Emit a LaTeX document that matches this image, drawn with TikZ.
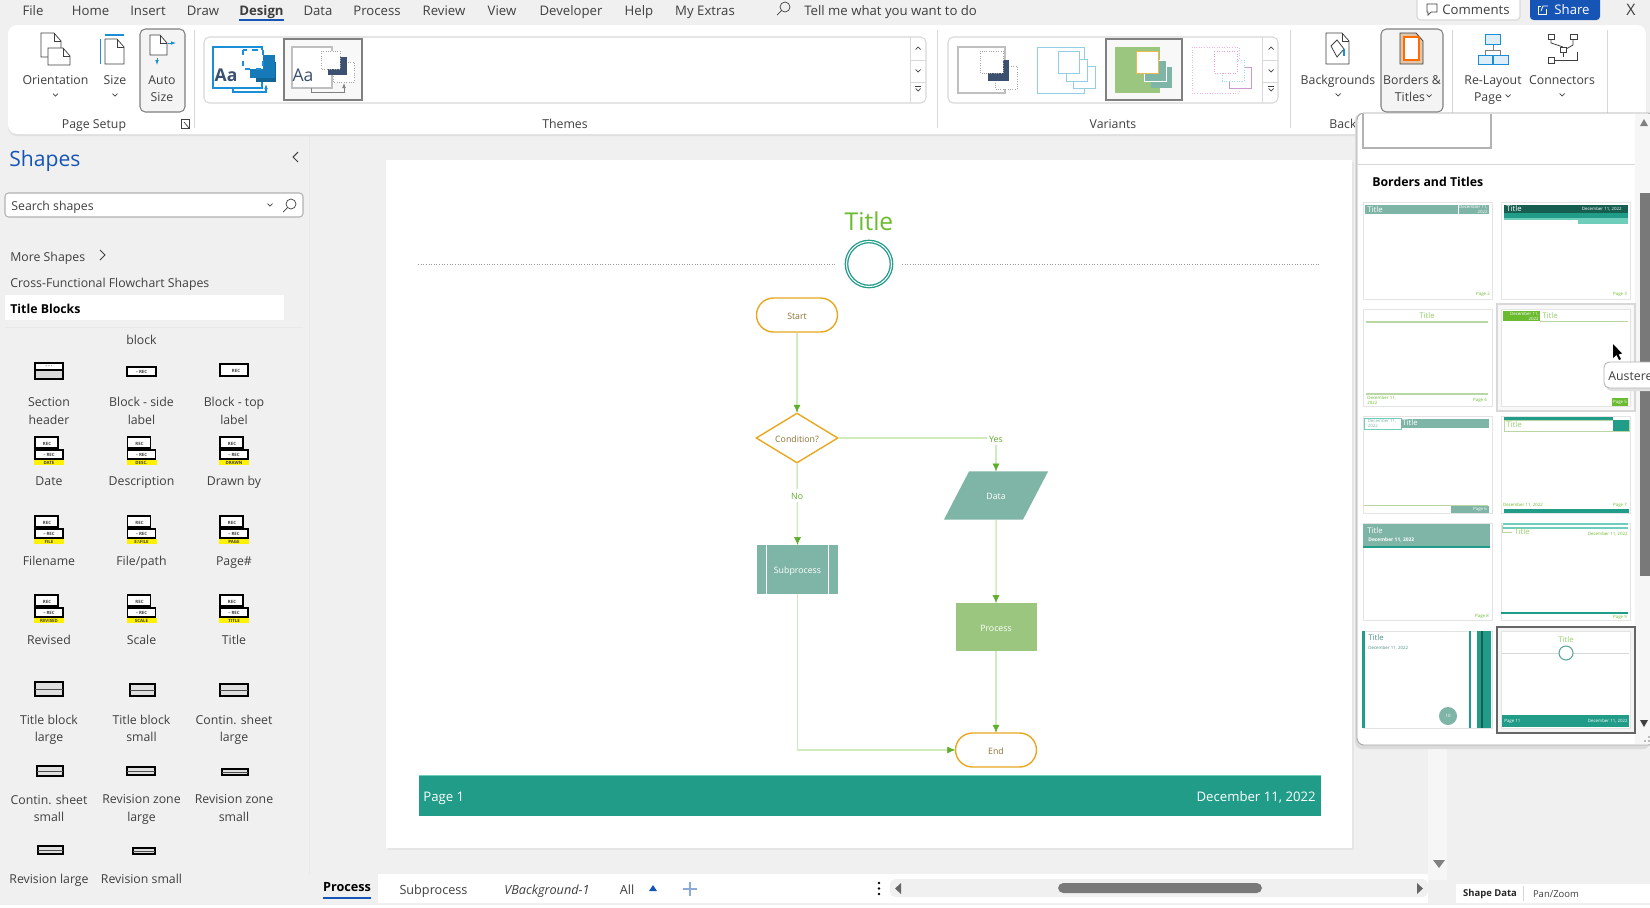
\documentclass[tikz,border=0pt]{standalone}
\usepackage{fontspec}
\setmainfont{Open Sans}
\usetikzlibrary{arrows.meta,shapes.geometric,shapes.misc,positioning}

\definecolor{canvasgrey}{HTML}{F0F0F0}
\definecolor{uigrey}{HTML}{3F3F3F}
\definecolor{rulegrey}{HTML}{D8D8D8}
\definecolor{officeblue}{HTML}{1655B5}
\definecolor{iconblue}{HTML}{1A8FD8}
\definecolor{slatedark}{HTML}{3C5070}
\definecolor{skyline}{HTML}{92CFE6}
\definecolor{flowteal}{HTML}{209C88}
\definecolor{darkteal}{HTML}{155E50}
\definecolor{softteal}{HTML}{7FB5A6}
\definecolor{paleteal}{HTML}{6FCDBB}
\definecolor{softgreen}{HTML}{9BC67F}
\definecolor{titlegreen}{HTML}{6BBB2F}
\definecolor{linegreen}{HTML}{D0ECBE}
\definecolor{tipgreen}{HTML}{5FAE2B}
\definecolor{startorange}{HTML}{E8A820}
\definecolor{flowbrown}{HTML}{8B7335}

\tikzset{
  uitext/.style={inner sep=0pt, text=uigrey, text height=6.65pt, text depth=0.55pt, font=\fontsize{7}{8.5}\selectfont},
  menutext/.style={uitext, font=\fontsize{7.5}{9}\selectfont},
  paneltext/.style={uitext, font=\fontsize{7}{8.5}\selectfont},
  stacktext/.style={inner sep=0pt, text=uigrey, font=\fontsize{7}{10.2}\selectfont, align=center, execute at begin node=\strut, execute at end node=\strut},
  iconline/.style={draw=uigrey, fill=white, line width=0.42pt},
  chevline/.style={draw=uigrey, line width=0.4pt},
  boxrule/.style={draw=rulegrey, fill=white, line width=0.6pt},
  pickbox/.style={draw=gray, fill=canvasgrey!50, line width=0.6pt},
  stencil/.style={draw=black, fill=white, line width=0.7pt},
  stenciltext/.style={inner sep=0pt, text=black!75, font=\fontsize{2.5}{3}\selectfont\bfseries},
  thumbbox/.style={draw=rulegrey!70, fill=white, line width=0.6pt, anchor=north west, minimum width=2.58cm, minimum height=1.94cm, inner sep=0pt},
  thumbtitle/.style={inner sep=0pt, font=\fontsize{4.4}{5}\selectfont},
  thumbnote/.style={inner sep=0pt, font=\fontsize{2.5}{3}\selectfont},
  flowline/.style={draw=linegreen, line width=0.85pt},
  tipline/.style={draw=tipgreen, line width=0.3pt, -{Latex[length=1.5mm, width=1.4mm]}},
  flowtext/.style={font=\fontsize{5}{6}\selectfont, text=flowbrown, inner sep=0pt, text height=5pt, text depth=0.4pt},
  terminal/.style={rounded rectangle, draw=startorange, fill=white, line width=0.8pt, minimum width=1.62cm, minimum height=0.68cm, flowtext},
  decision/.style={diamond, aspect=1.64, draw=startorange, fill=white, line width=0.8pt, minimum width=1.64cm, minimum height=1cm, flowtext},
  whitebox/.style={font=\fontsize{5}{6}\selectfont, text=white, inner sep=0pt, text height=5pt, text depth=0.4pt},
  edgetext/.style={fill=white, font=\fontsize{5}{6}\selectfont, text=tipgreen, inner sep=1pt, text height=5pt, text depth=0.4pt},
  foottext/.style={inner sep=0pt, text=white, text height=7.5pt, text depth=0.5pt, font=\fontsize{7.5}{9}\selectfont},
}

\newcommand{\pageicon}[4]{%
  \draw[iconline] (#1,#2) -- ++({#3-7},0) -- ++(7,8) -- ++(0,{#4-8}) -- ++(-#3,0) -- cycle;
  \draw[iconline, fill=none] ({#1+#3-7},#2) -- ++(0,8) -- ++(7,0);}
\newcommand{\chevdown}[2]{\draw[chevline] ({#1-2.5},{#2-1.5}) -- (#1,{#2+1}) -- ({#1+2.5},{#2-1.5});}
\newcommand{\chevup}[2]{\draw[chevline] ({#1-2.5},{#2+1.5}) -- (#1,{#2-1}) -- ({#1+2.5},{#2+1.5});}
\newcommand{\moredown}[2]{\chevdown{#1}{#2}\draw[chevline] ({#1-3},{#2-3.5}) -- ({#1+3},{#2-3.5});}
\newcommand{\lens}[2]{\draw[chevline] (#1,#2) circle (5);\draw[chevline] ({#1-3.5},{#2+3.5}) -- ({#1-8},{#2+8});}
\newcommand{\recicon}[4]{%
  \draw[stencil] ({#2-14},#3) rectangle ({#2+9},{#3+11});
  \draw[stencil] ({#2-14},{#3+13}) rectangle ({#2+14},{#3+22});
  \node[stenciltext] (#1up) at ({#2-2},{#3+6.5}) {REC};
  \node[stenciltext] (#1low) at (#2,{#3+17.5}) {-- REC};
  \fill[yellow] ({#2-15},{#3+23}) rectangle ({#2+15},{#3+28});
  \node[stenciltext] (#1tag) at (#2,{#3+25.5}) {#4};}
\newcommand{\blockicon}[4]{%
  \fill[gray!70] ({#1+1},{#2+1}) rectangle ({#3+1},{#4+1});
  \draw[stencil, fill=gray!25] (#1,#2) rectangle (#3,#4);
  \draw[black!70, line width=0.3pt] (#1,{(#2+#4)/2}) -- (#3,{(#2+#4)/2});}

\begin{document}
\begin{tikzpicture}[x=0.02cm, y=-0.02cm]
  \useasboundingbox (0,0) rectangle (1650,907);
  \fill[canvasgrey] (0,0) rectangle (1650,907);

  % menu bar
  \node[menutext] (mfile) at (33,10) {File};
  \node[menutext] (mhome) at (90.5,10) {Home};
  \node[menutext] (minsert) at (148,10) {Insert};
  \node[menutext] (mdraw) at (203,10) {Draw};
  \node[menutext, font=\fontsize{7.5}{9}\selectfont\bfseries] (mdesign) at (261.5,10) {Design};
  \node[menutext] (mdata) at (318,10) {Data};
  \node[menutext] (mprocess) at (377,10) {Process};
  \node[menutext] (mreview) at (444,10) {Review};
  \node[menutext] (mview) at (502,10) {View};
  \node[menutext] (mdeveloper) at (571,10) {Developer};
  \node[menutext] (mhelp) at (639,10) {Help};
  \node[menutext] (mextras) at (705,10) {My Extras};
  \node[menutext, anchor=west] (mtell) at (804,10) {Tell me what you want to do};
  \draw[officeblue, line width=0.9pt] (239,20) -- (284,20);
  \lens{785}{7}
  \draw[boxrule, rounded corners=2pt] (1417,-4) rectangle (1520,20);
  \draw[chevline] (1427,4) -- (1437,4) -- (1437,12) -- (1431,12) -- (1428,15) -- (1428,12) -- (1427,12) -- cycle;
  \node[menutext] (mcomments) at (1476,9) {Comments};
  \fill[officeblue, rounded corners=2pt] (1530,-4) rectangle (1600,20);
  \node[menutext, text=white] (mshare) at (1572,9) {Share};
  \draw[white, line width=0.45pt] (1546,9) -- (1546,14) -- (1538,14) -- (1538,6) -- (1541,6);
  \draw[white, line width=0.45pt] (1541,11) -- (1543,6) -- (1548,6);
  \node[menutext, font=\fontsize{9}{10}\selectfont] (mclose) at (1631,10) {X};

  % ribbon
  \fill[black!12, rounded corners=5pt] (8,27) rectangle (1646,136);
  \fill[white, rounded corners=5pt] (8,25) rectangle (1646,134);
  \draw[rulegrey] (194,30) -- (194,128);
  \draw[rulegrey] (937,30) -- (937,128);
  \draw[rulegrey] (1290,30) -- (1290,128);
  \draw[rulegrey] (1452,30) -- (1452,128);
  \draw[rulegrey] (1607,30) -- (1607,128);

  % page setup group
  \pageicon{41}{33}{20}{24}
  \pageicon{48}{48}{22}{17}
  \node[uitext] (lorient) at (55.5,79) {Orientation};
  \chevdown{55.5}{95}
  \pageicon{105}{39}{19}{25}
  \draw[iconblue, line width=0.6pt] (105,35) -- (124,35);
  \draw[iconblue, line width=0.6pt] (100.5,39) -- (100.5,64);
  \node[uitext] (lsize) at (115,79) {Size};
  \chevdown{115}{95}
  \draw[draw=gray, fill=canvasgrey!70, rounded corners=3pt, line width=0.6pt] (140,29) rectangle (185,112);
  \pageicon{150}{35}{17}{20}
  \draw[iconblue, -{Latex[length=1mm]}, line width=0.5pt] (168,43) -- (176,43);
  \draw[iconblue, -{Latex[length=1mm]}, line width=0.5pt] (157,58) -- (157,65);
  \node[uitext] (lauto) at (162,79) {Auto};
  \node[uitext] (lautosize) at (162,96) {Size};
  \node[uitext] (lpagesetup) at (94,123) {Page Setup};
  \draw[chevline] (181,119) rectangle (189,128);
  \draw[chevline] (184,122) -- (189,128);

  % themes group
  \draw[boxrule, rounded corners=3pt] (204,37) rectangle (926,103);
  \draw[rulegrey] (910,37) -- (910,103);
  \draw[rulegrey] (910,60) -- (926,60);
  \draw[rulegrey] (910,82) -- (926,82);
  \chevup{918}{48}
  \chevdown{918}{71}
  \moredown{918}{90}
  \draw[iconblue, line width=0.8pt, fill=white] (213,47) rectangle (262,88);
  \node[inner sep=0pt, text=slatedark, font=\fontsize{10}{11}\selectfont\bfseries] (themeaa) at (226,75) {Aa};
  \draw[iconblue, -{Latex[length=1mm]}, line width=0.6pt] (233,88) -- (233,92) -- (266,92) -- (266,84);
  \fill[iconblue!70!black] (256,62) rectangle (276,82);
  \fill[iconblue!85!black] (250,55) rectangle (275,78);
  \draw[iconblue, dashed, fill=white, line width=0.6pt] (243,50) rectangle (263,69);
  \draw[pickbox] (284,39) rectangle (362,100);
  \draw[draw=gray!50, fill=white, line width=0.7pt] (292,47) rectangle (332,88);
  \node[inner sep=0pt, text=slatedark, font=\fontsize{10}{11}\selectfont] (themebb) at (303,75) {Aa};
  \draw[gray, -{Latex[length=1mm]}, line width=0.45pt] (311,88) -- (311,92) -- (344,92) -- (344,83);
  \draw[gray!70, densely dotted, fill=white, line width=0.35pt] (333,62) rectangle (354,82);
  \fill[slatedark] (328,57) rectangle (347,75);
  \draw[gray!70, densely dotted, fill=white, line width=0.35pt] (321,51) rectangle (340,69);
  \node[uitext] (lthemes) at (565,123) {Themes};

  % variants group
  \draw[boxrule, rounded corners=3pt] (948,37) rectangle (1278,103);
  \draw[rulegrey] (1262,37) -- (1262,103);
  \draw[rulegrey] (1262,60) -- (1278,60);
  \draw[rulegrey] (1262,82) -- (1278,82);
  \chevup{1271}{48}
  \chevdown{1271}{71}
  \moredown{1271}{90}
  \draw[draw=gray!50, fill=white, line width=0.7pt] (958,47) rectangle (1005,93);
  \draw[gray!70, densely dotted, fill=white, line width=0.35pt] (995,66) rectangle (1017,89);
  \fill[slatedark] (988,60) rectangle (1009,81);
  \draw[gray!70, densely dotted, fill=white, line width=0.35pt] (980,51) rectangle (1003,73);
  \draw[skyline, fill=white, line width=0.45pt] (1037,47) rectangle (1084,93);
  \draw[skyline, fill=white, line width=0.45pt] (1073,66) rectangle (1095,88);
  \draw[skyline, fill=white, line width=0.45pt] (1066,59) rectangle (1087,81);
  \draw[skyline, fill=white, line width=0.45pt] (1058,51) rectangle (1079,73);
  \draw[pickbox] (1106,39) rectangle (1182,100);
  \fill[softgreen] (1115,47) rectangle (1160,93);
  \fill[softteal] (1151,67) rectangle (1172,88);
  \draw[white, fill=softteal, line width=0.4pt] (1144,60) rectangle (1166,81);
  \draw[startorange!80, fill=white, line width=0.45pt] (1136,51) rectangle (1158,73);
  \draw[magenta!30, densely dotted, line width=0.45pt] (1192,47) rectangle (1239,93);
  \draw[violet!40, fill=white, line width=0.4pt] (1229,67) rectangle (1251,88);
  \draw[cyan!40, densely dotted, fill=white, line width=0.45pt] (1222,60) rectangle (1244,81);
  \draw[magenta!40, densely dotted, fill=white, line width=0.45pt] (1214,51) rectangle (1237,73);
  \node[uitext] (lvariants) at (1113,123) {Variants};

  % backgrounds and layout group
  \pageicon{1326}{33}{23}{31}
  \draw[uigrey, line width=0.45pt, fill=white] (1331,46) -- (1337,40) -- (1344,49) -- (1337,57) -- cycle;
  \draw[iconblue, line width=0.6pt] (1344,49) -- (1344,56);
  \node[uitext] (lback) at (1338,79) {Backgrounds};
  \chevdown{1338}{95}
  \node[uitext, anchor=west] (lbackg) at (1329,123) {Backg};
  \draw[draw=gray, fill=canvasgrey!70, rounded corners=3pt, line width=0.6pt] (1381,29) rectangle (1443,112);
  \draw[draw=uigrey, fill=brown!45, line width=0.45pt] (1400,33) -- (1416,33) -- (1423,41) -- (1423,64) -- (1400,64) -- cycle;
  \draw[draw=orange!85!red, fill=white, line width=0.9pt] (1404,37) rectangle (1419,60);
  \node[uitext] (lborders) at (1412,79) {Borders \&};
  \node[uitext] (ltitles) at (1410,96) {Titles};
  \chevdown{1429}{96}
  \draw[gray, line width=0.45pt] (1493,44) -- (1493,50) (1485,50) -- (1500,50) (1485,50) -- (1485,55) (1500,50) -- (1500,55);
  \draw[iconblue, fill=iconblue!15, line width=0.5pt] (1485,34) rectangle (1500,44);
  \draw[iconblue, fill=iconblue!15, line width=0.5pt] (1478,55) rectangle (1492,64);
  \draw[iconblue, fill=iconblue!15, line width=0.5pt] (1493,55) rectangle (1508,64);
  \node[uitext] (lrelayout) at (1493,79) {Re-Layout};
  \node[uitext] (lrepage) at (1488,96) {Page};
  \chevdown{1508}{96}
  \draw[uigrey, line width=0.45pt] (1551,39) -- (1551,43) -- (1563,47);
  \draw[uigrey, line width=0.45pt] (1573,39) -- (1573,45) -- (1566,49);
  \draw[uigrey, line width=0.45pt] (1563,52) -- (1563,57);
  \draw[uigrey, line width=0.45pt] (1554,60) -- (1577,60) -- (1577,52);
  \draw[iconline] (1548,34) rectangle (1554,39);
  \draw[iconline] (1570,34) rectangle (1577,39);
  \draw[iconline] (1560,47) rectangle (1566,52);
  \draw[iconline] (1548,57) rectangle (1554,63);
  \node[uitext] (lconnectors) at (1562,79) {Connectors};
  \chevdown{1562}{95}

  % shapes panel
  \node[inner sep=0pt, anchor=west, text=officeblue, font=\fontsize{12}{14}\selectfont] (pshapes) at (9,161) {Shapes};
  \draw[chevline, line width=0.6pt] (298,152) -- (293,157) -- (298,162);
  \draw[boxrule, draw=gray!60, rounded corners=2pt] (5,193) rectangle (303,217);
  \node[paneltext, anchor=west] (psearch) at (11,205.5) {Search shapes};
  \chevdown{270}{205}
  \lens{291}{204}
  \node[paneltext, anchor=west] (pmore) at (10,256) {More Shapes};
  \draw[chevline, line width=0.55pt] (100,250) -- (105,255) -- (100,260);
  \node[paneltext, anchor=west] (pcross) at (10,282) {Cross-Functional Flowchart Shapes};
  \fill[white] (5,295) rectangle (284,320);
  \node[paneltext, anchor=west, text=black, font=\fontsize{7}{8.5}\selectfont\bfseries] (ptitle) at (10,308) {Title Blocks};
  \draw[rulegrey!60] (5,327) -- (303,327);
  \node[paneltext] (pblock) at (141.5,339) {block};

  \draw[stencil, fill=gray!30] (35,363) rectangle (63,379);
  \draw[black, fill=white, line width=0.7pt] (35,363) rectangle (63,370);
  \node[stenciltext] (isection) at (49,366.5) {- - -};
  \draw[stencil] (127,367) rectangle (156,376);
  \node[stenciltext] (iside) at (141.5,371.5) {-- REC};
  \draw[stencil] (220,364) rectangle (248,376);
  \node[stenciltext] (itop) at (236,371) {REC};
  \node[stacktext] (ssection) at (49,413.5) {Section\\header};
  \node[stacktext] (sside) at (141.5,413.5) {Block - side\\label};
  \node[stacktext] (stop) at (234,413.5) {Block - top\\label};

  \recicon{idate}{49}{437}{DATE}
  \recicon{idesc}{141.5}{437}{DESC.}
  \recicon{idrawn}{234}{437}{DRAWN}
  \node[paneltext] (sdate) at (49,480.5) {Date};
  \node[paneltext] (sdesc) at (141.5,480.5) {Description};
  \node[paneltext] (sdrawn) at (234,480.5) {Drawn by};

  \recicon{ifile}{49}{516}{FILE}
  \recicon{ipath}{141.5}{516}{E:\textbackslash FILE}
  \recicon{ipage}{234}{516}{PAGE}
  \node[paneltext] (sfile) at (49,560) {Filename};
  \node[paneltext] (spath) at (141.5,560) {File/path};
  \node[paneltext] (spage) at (234,560) {Page\#};

  \recicon{irevised}{49}{595}{REVISED}
  \recicon{iscale}{141.5}{595}{SCALE}
  \recicon{ititle}{234}{595}{TITLE}
  \node[paneltext] (srevised) at (49,639) {Revised};
  \node[paneltext] (sscale) at (141.5,639) {Scale};
  \node[paneltext] (stitle) at (234,639) {Title};

  \blockicon{35}{682}{63}{696}
  \blockicon{130}{684}{155}{696}
  \blockicon{220}{684}{248}{696}
  \node[stacktext] (sbiglarge) at (49,731) {Title block\\large};
  \node[stacktext] (sbigsmall) at (141.5,731) {Title block\\small};
  \node[stacktext] (scontlarge) at (234,731) {Contin. sheet\\large};

  \blockicon{37}{766}{63}{776}
  \blockicon{127}{767}{155}{775}
  \blockicon{222}{769}{248}{775}
  \node[stacktext] (scontsmall) at (49,811) {Contin. sheet\\small};
  \node[stacktext] (szonelarge) at (141.5,811) {Revision zone\\large};
  \node[stacktext] (szonesmall) at (234,811) {Revision zone\\small};

  \blockicon{38}{846}{63}{854}
  \blockicon{133}{848}{155}{854}
  \node[paneltext] (srevlarge) at (49,878) {Revision large};
  \node[paneltext] (srevsmall) at (141.5,878) {Revision small};

  % drawing page
  \draw[rulegrey!60] (309,136) -- (309,874);
  \fill[black!10] (388,162) rectangle (1354,850);
  \fill[white] (386,160) rectangle (1352,848);

  \node[inner sep=0pt, text=titlegreen, font=\fontsize{14}{16}\selectfont] (title) at (869,221) {Title};
  \node[circle, draw=flowteal, fill=white, double=white, double distance=0.6pt, line width=0.75pt, minimum size=0.9cm, inner sep=0pt] (ring) at (869,264) {};
  \coordinate (ruleleft) at (418,264);
  \coordinate (ruleright) at (1319,264);
  \draw[gray!80, densely dotted, line width=0.5pt] (ruleleft) -- (835,264);
  \draw[gray!80, densely dotted, line width=0.5pt] (902,264) -- (ruleright);

  \node[terminal] (start) at (797,315) {Start};
  \node[decision] (condition) at (797,438) {Condition?};
  \node[trapezium, trapezium left angle=62.5, trapezium right angle=117.5, fill=softteal, whitebox, inner xsep=0pt, inner ysep=11pt, text width=1.08cm, align=center] (data) at (996,495.5) {Data};
  \node[fill=softteal, minimum width=1.62cm, minimum height=0.98cm, whitebox] (subprocess) at (797.5,569.5) {Subprocess};
  \node[fill=softgreen, minimum width=1.62cm, minimum height=0.96cm, whitebox] (process) at (996,627) {Process};
  \node[terminal] (end) at (996,750) {End};
  \draw[white, line width=0.5pt] (766,545) -- (766,594);
  \draw[white, line width=0.5pt] (828,545) -- (828,594);

  \draw[flowline] (start.south) to[out=270, in=90] (condition.north);
  \draw[flowline] (condition.east) -| node[edgetext, pos=0.5] (yes) {Yes} (data.north);
  \draw[flowline] (condition.south) to node[edgetext, pos=0.39] (no) {No} (subprocess.north);
  \draw[flowline] (data.south) to[out=270, in=90] (process.north);
  \draw[flowline] (process.south) to[out=270, in=90] (end.north);
  \draw[flowline] (subprocess.south) |- (end.west);
  \draw[tipline] ([yshift=0.15cm]condition.north) -- (condition.north);
  \draw[tipline] ([yshift=0.15cm]data.north) -- (data.north);
  \draw[tipline] ([yshift=0.15cm]subprocess.north) -- (subprocess.north);
  \draw[tipline] ([yshift=0.15cm]process.north) -- (process.north);
  \draw[tipline] ([yshift=0.15cm]end.north) -- (end.north);
  \draw[tipline] ([xshift=-0.15cm]end.west) -- (end.west);

  \fill[flowteal] (419,775.5) rectangle (1321,816);
  \draw[paleteal, line width=0.4pt] (419,775.5) -- (1321,775.5);
  \node[foottext, anchor=west] (footpage) at (423,795) {Page 1};
  \node[foottext, anchor=east] (footdate) at (1316,795) {December 11, 2022};

  % tabs and scrollbars
  \fill[canvasgrey!60] (1428,745) rectangle (1447,880);
  \fill[gray] (1433,860) -- (1445,860) -- (1439,868) -- cycle;
  \fill[white] (310,874) rectangle (1428,903);
  \fill[canvasgrey] (310,874) rectangle (378,903);
  \node[menutext, text=black, font=\fontsize{7.2}{9}\selectfont\bfseries] (tprocess) at (347,886) {Process};
  \draw[officeblue, line width=1.1pt] (323,898) -- (371,898);
  \node[menutext, font=\fontsize{7.2}{9}\selectfont] (tsub) at (433.5,889) {Subprocess};
  \node[menutext, font=\fontsize{7.2}{9}\selectfont\itshape] (tvback) at (547,889) {VBackground-1};
  \node[menutext, font=\fontsize{7.2}{9}\selectfont] (tall) at (627,889) {All};
  \fill[officeblue] (649,891) -- (657,891) -- (653,885) -- cycle;
  \draw[officeblue!50, line width=0.7pt] (683,889) -- (697,889);
  \draw[officeblue!50, line width=0.7pt] (690,882) -- (690,896);
  \fill[black] (879,883) circle (1.3);
  \fill[black] (879,888.5) circle (1.3);
  \fill[black] (879,894) circle (1.3);
  \fill[canvasgrey, rounded corners=3pt] (890,879) rectangle (1428,897);
  \fill[gray!95!black, rounded corners=3pt] (1058,883) rectangle (1262,893);
  \fill[uigrey!80] (901,883) -- (901,894) -- (895,888.5) -- cycle;
  \fill[uigrey!80] (1417,883) -- (1417,894) -- (1423,888.5) -- cycle;
  \fill[white] (1456,884) rectangle (1650,903);
  \node[inner sep=0pt, text=black!85, font=\fontsize{5.4}{7}\selectfont\bfseries] (tshape) at (1490,894) {Shape Data};
  \draw[rulegrey] (1523,886) -- (1523,901);
  \node[inner sep=0pt, text=uigrey, font=\fontsize{5.4}{7}\selectfont] (tpan) at (1556,894) {Pan/Zoom};
  \fill[white] (0,905) rectangle (1650,907);

  % gallery of borders
  \fill[black!14, rounded corners=4pt] (1355,113) rectangle (1650,749);
  \draw[draw=gray!70, fill=white, rounded corners=4pt, line width=0.5pt] (1357,113) rectangle (1655,745);
  \fill[canvasgrey!60] (1635,114) rectangle (1650,744);
  \fill[gray] (1640,126) -- (1648,126) -- (1644,119) -- cycle;
  \fill[gray!95!black] (1640,193) rectangle (1650,576);
  \fill[uigrey] (1640,720) -- (1648,720) -- (1644,727) -- cycle;
  \draw[draw=gray!60, line width=1pt] (1363,114) -- (1363,148) -- (1491,148) -- (1491,114);
  \draw[rulegrey] (1357,164) -- (1635,164);
  \node[inner sep=0pt, anchor=west, text=black, font=\fontsize{7}{8.5}\selectfont\bfseries] (gbord) at (1372,181.5) {Borders and Titles};

  \draw[rulegrey, fill=canvasgrey!50, line width=0.6pt] (1497,304) rectangle (1635,411);
  \draw[draw=gray!120, fill=canvasgrey!70, line width=0.8pt] (1497,627) rectangle (1635,733);

  \node[thumbbox] (r1c1) at (1363,202) {};
  \node[thumbbox] (r1c2) at (1501,202) {};
  \node[thumbbox] (r2c1) at (1363,309) {};
  \node[thumbbox] (r2c2) at (1501,309) {};
  \node[thumbbox] (r3c1) at (1363,416) {};
  \node[thumbbox] (r3c2) at (1501,416) {};
  \node[thumbbox] (r4c1) at (1363,523) {};
  \node[thumbbox] (r4c2) at (1501,523) {};
  \node[thumbbox] (r5c1) at (1363,631) {};
  \node[thumbbox] (r5c2) at (1501,631) {};

  % row one
  \fill[softteal] (1365,205) rectangle (1458,214);
  \fill[softteal] (1459,205) rectangle (1489,214);
  \node[thumbtitle, anchor=west, text=white] (a1) at (1367,209.5) {Title};
  \node[thumbnote, text=white, align=right, anchor=east] (a2) at (1488,209.5) {December 11,\\2022};
  \node[thumbnote, text=titlegreen] (a3) at (1483,294) {Page 2};
  \fill[darkteal] (1504,205) rectangle (1628,213);
  \fill[flowteal] (1504,213) rectangle (1628,218);
  \fill[paleteal] (1504,218) rectangle (1628,220);
  \fill[paleteal] (1578,220) rectangle (1628,224);
  \node[thumbtitle, anchor=west, text=white] (b1) at (1506,209) {Title};
  \node[thumbnote, anchor=east, text=white] (b2) at (1622,209) {December 11, 2022};
  \node[thumbnote, text=titlegreen] (b3) at (1620,294) {Page 3};

  % row two
  \node[thumbtitle, text=titlegreen!70] (c1) at (1427,316) {Title};
  \draw[softgreen!70, line width=0.7pt] (1366,322) -- (1488,322);
  \draw[softgreen!70, line width=0.7pt] (1366,394) -- (1488,394);
  \node[thumbnote, anchor=north west, align=left, text=titlegreen] (c2) at (1367,395.5) {December 11,\\2022};
  \node[thumbnote, text=titlegreen] (c3) at (1480,400) {Page 4};
  \fill[titlegreen] (1503,311) rectangle (1540,321);
  \node[thumbnote, text=white, anchor=east, align=right] (d1) at (1539,316) {December 11,\\2022};
  \node[thumbtitle, anchor=west, text=titlegreen!70] (d2) at (1542,316) {Title};
  \draw[softgreen!70, line width=0.5pt] (1540,321.5) -- (1628,321.5);
  \fill[titlegreen] (1612,398) rectangle (1628,406);
  \node[thumbnote, text=white] (d3) at (1620,402) {Page 5};

  % row three
  \draw[paleteal, line width=0.5pt] (1364,418) rectangle (1401,429);
  \node[thumbnote, text=softteal, align=left] (e1) at (1382,423.5) {December 11,\\2022};
  \fill[softteal] (1401,419) rectangle (1489,428);
  \node[thumbtitle, anchor=west, text=white] (e2) at (1402,423) {Title};
  \draw[softgreen!70, line width=0.4pt] (1364,505) -- (1488,505);
  \fill[softteal] (1451,505.5) rectangle (1489,513);
  \node[thumbnote, text=white] (e3) at (1480,509) {Page 6};
  \fill[flowteal] (1504,417) rectangle (1613,420);
  \draw[softgreen!70, line width=0.5pt] (1504,420) rectangle (1629,431);
  \fill[flowteal] (1613,420) rectangle (1629,431);
  \node[thumbtitle, anchor=west, text=titlegreen!70] (f1) at (1506,425) {Title};
  \node[thumbnote, text=titlegreen] (f2) at (1523,505) {December 11, 2022};
  \node[thumbnote, text=titlegreen] (f3) at (1620,505) {Page 7};
  \fill[flowteal] (1504,509) rectangle (1629,513);

  % row four
  \fill[softteal] (1363,524) rectangle (1490,546);
  \fill[flowteal] (1363,546) rectangle (1490,548);
  \node[thumbtitle, anchor=west, text=white] (g1) at (1367,531) {Title};
  \node[thumbnote, anchor=west, text=white, font=\fontsize{2.8}{3}\selectfont\bfseries] (g2) at (1368,540) {December 11, 2022};
  \node[thumbnote, text=titlegreen] (g3) at (1482,616) {Page 8};
  \fill[paleteal] (1503,523) rectangle (1628,525);
  \fill[paleteal] (1503,527) rectangle (1628,529);
  \draw[softgreen!70, line width=0.4pt] (1502,525) -- (1502,532) -- (1512,532);
  \node[thumbtitle, anchor=west, text=titlegreen!70] (h1) at (1514,532) {Title};
  \node[thumbnote, anchor=east, text=titlegreen] (h2) at (1628,534) {December 11, 2022};
  \draw[flowteal, line width=0.6pt] (1501,613) -- (1628,613);
  \node[thumbnote, text=titlegreen] (h3) at (1620,617) {Page 9};

  % row five
  \fill[flowteal] (1362,631) rectangle (1365,728);
  \fill[flowteal] (1469,631) rectangle (1471,728);
  \fill[flowteal] (1477,631) rectangle (1491,728);
  \fill[darkteal] (1481,631) rectangle (1483,728);
  \node[thumbtitle, anchor=west, text=paleteal!70!black] (i1) at (1368,638) {Title};
  \node[thumbnote, anchor=west, text=paleteal!70!black] (i2) at (1368,648) {December 11, 2022};
  \node[circle, fill=softteal, minimum size=0.36cm, inner sep=0pt, thumbnote, text=white] (i3) at (1448,716) {10};
  \node[thumbtitle, text=titlegreen!70] (j1) at (1566,640) {Title};
  \draw[rulegrey, line width=0.4pt] (1502,653) -- (1629,653);
  \node[circle, draw=paleteal!80!black, fill=white, line width=0.6pt, minimum size=0.28cm, inner sep=0pt] (j2) at (1566,653) {};
  \fill[flowteal] (1502,715) rectangle (1629,727);
  \node[thumbnote, anchor=west, text=white] (j3) at (1504,721) {Page 11};
  \node[thumbnote, anchor=east, text=white] (j4) at (1628,721) {December 11, 2022};

  % tooltip and pointer
  \fill[black!12, rounded corners=3pt] (1606,364) rectangle (1660,391);
  \draw[draw=gray!60, fill=white, rounded corners=3pt, line width=0.5pt] (1604,362) rectangle (1660,388);
  \node[inner sep=0pt, anchor=west, text=uigrey, font=\fontsize{7}{8.5}\selectfont] (tooltip) at (1608,376) {Austere};
  \fill[black] (1613,344) -- (1613,358) -- (1616.5,355) -- (1619,360) -- (1621,359) -- (1618.5,354.5) -- (1622,353.5) -- cycle;
  \fill[gray] (1645,741) circle (0.9);
  \fill[gray] (1649,741) circle (0.9);
  \fill[gray] (1649,737) circle (0.9);
\end{tikzpicture}
\end{document}
